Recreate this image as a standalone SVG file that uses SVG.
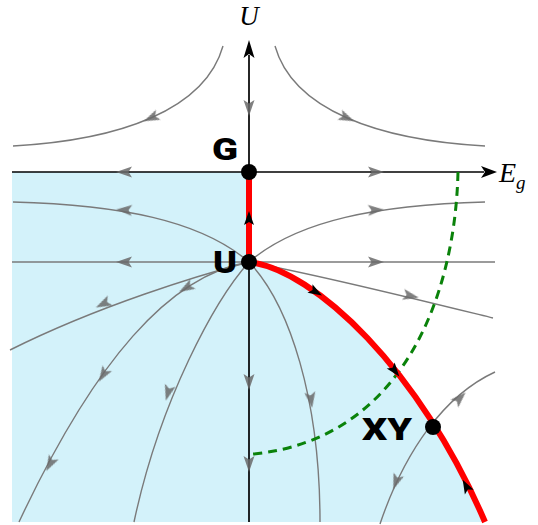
<svg xmlns="http://www.w3.org/2000/svg" xmlns:xlink="http://www.w3.org/1999/xlink" width="538" height="525" viewBox="0 0 538 525">
<style>
.traj{fill:none;stroke:#7a7a7a;stroke-width:1.4}
.axis{fill:none;stroke:#000;stroke-width:1.7}
.red{fill:none;stroke:#ff0000;stroke-width:6;stroke-linecap:butt}
.green{fill:none;stroke:#0a820a;stroke-width:3;stroke-dasharray:9 6}
.ga{fill:#6a6a6a;opacity:0.85}
.ba{fill:#000}
.lbl{font-family:Roboto,Inter,"Liberation Sans",sans-serif;font-weight:900;font-size:32px;fill:#000}
.ax{font-family:"Liberation Serif","DejaVu Serif",serif;font-style:italic;fill:#000}
</style>
<defs>
<filter id="soft" x="-50%" y="-50%" width="200%" height="200%"><feGaussianBlur stdDeviation="0.7"/></filter>
<path id="garr" class="ga" d="M8,0 L-8,-5.5 L-4.5,0 L-8,5.5 Z" filter="url(#soft)"/>
<path id="barr" class="ba" d="M7,0 L-7,-5 L-4,0 L-7,5 Z"/>
</defs>
<rect width="538" height="525" fill="#fff"/>
<g id="region">
<path d="M12,172 L249,172 L249,262 C315,270 420,370 485,522 L12,522 Z" fill="#d3f2fa"/>
</g>
<g id="connectors">
<path class="traj" d="M13,146 C120,140 205,110 223,46"/>
<path class="traj" d="M485,146 C378,140 293,110 275,46"/>
<path class="traj" d="M13,202 C120,205 200,220 249,262"/>
<path class="traj" d="M485,202 C378,205 298,220 249,262"/>
<path class="traj" d="M12,262 L495,262"/>
<path class="traj" d="M249,262 C200,275 100,305 10,350"/>
<path class="traj" d="M249,262 C170,275 95,360 19,522"/>
<path class="traj" d="M249,262 C215,300 160,400 134,522"/>
<path class="traj" d="M249,262 C290,305 320,400 320,522"/>
<path class="traj" d="M249,262 C320,275 420,300 493,318"/>
<path class="traj" d="M380,524 C405,450 445,395 495,372"/>
<path class="axis" d="M12,172 L484,172"/>
<path class="axis" d="M249,522 L249,55"/>
<path d="M497,172 L481,166 L485,172 L481,178 Z" fill="#000"/>
<path d="M249,40 L243.5,58 L249,54 L254.5,58 Z" fill="#000"/>
<use xlink:href="#garr" transform="translate(249,108) rotate(90)"/>
<use xlink:href="#garr" transform="translate(151,118) rotate(156)"/>
<use xlink:href="#garr" transform="translate(347,118) rotate(24)"/>
<use xlink:href="#garr" transform="translate(124,172) rotate(180)"/>
<use xlink:href="#garr" transform="translate(376,172) rotate(0)"/>
<use xlink:href="#garr" transform="translate(124,210) rotate(183)"/>
<use xlink:href="#garr" transform="translate(376,210) rotate(-3)"/>
<use xlink:href="#garr" transform="translate(124,262) rotate(180)"/>
<use xlink:href="#garr" transform="translate(376,262) rotate(0)"/>
<use xlink:href="#garr" transform="translate(103,304) rotate(154)"/>
<use xlink:href="#garr" transform="translate(186,288) rotate(150)"/>
<use xlink:href="#garr" transform="translate(103,375) rotate(122)"/>
<use xlink:href="#garr" transform="translate(50,464) rotate(118)"/>
<use xlink:href="#garr" transform="translate(168,393) rotate(106)"/>
<use xlink:href="#garr" transform="translate(249,382) rotate(90)"/>
<use xlink:href="#garr" transform="translate(249,464) rotate(90)"/>
<use xlink:href="#garr" transform="translate(311,400) rotate(82)"/>
<use xlink:href="#garr" transform="translate(411,296) rotate(12)"/>
<use xlink:href="#garr" transform="translate(396,482) rotate(110)"/>
<use xlink:href="#garr" transform="translate(460,398) rotate(-45)"/>
<path class="green" d="M458,172 C455,300 400,440 253,454"/>
<path class="red" d="M249,172 L249,262"/>
<path class="red" d="M249,262 C315,270 420,370 485,522"/>
<use xlink:href="#barr" transform="translate(249,218) rotate(-90)"/>
<use xlink:href="#barr" transform="translate(316,292) rotate(30)"/>
<use xlink:href="#barr" transform="translate(395,371) rotate(52)"/>
<use xlink:href="#barr" transform="translate(466,486) rotate(-118)"/>
</g>
<g id="G">
<circle cx="249" cy="172" r="8"/>
<text class="lbl" x="212" y="160" textLength="26" lengthAdjust="spacingAndGlyphs">G</text>
</g>
<g id="U">
<circle cx="249" cy="262" r="8"/>
<text class="lbl" x="213" y="273" textLength="24" lengthAdjust="spacingAndGlyphs">U</text>
</g>
<g id="XY">
<circle cx="433" cy="427" r="8"/>
<text class="lbl" x="362" y="440" textLength="50" lengthAdjust="spacingAndGlyphs">XY</text>
</g>
<g id="axis-labels">
<text class="ax" x="249" y="25" font-size="27" text-anchor="middle">U</text>
<text class="ax" x="499" y="182" font-size="28">E<tspan font-size="19" dy="7">g</tspan></text>
</g>
</svg>
